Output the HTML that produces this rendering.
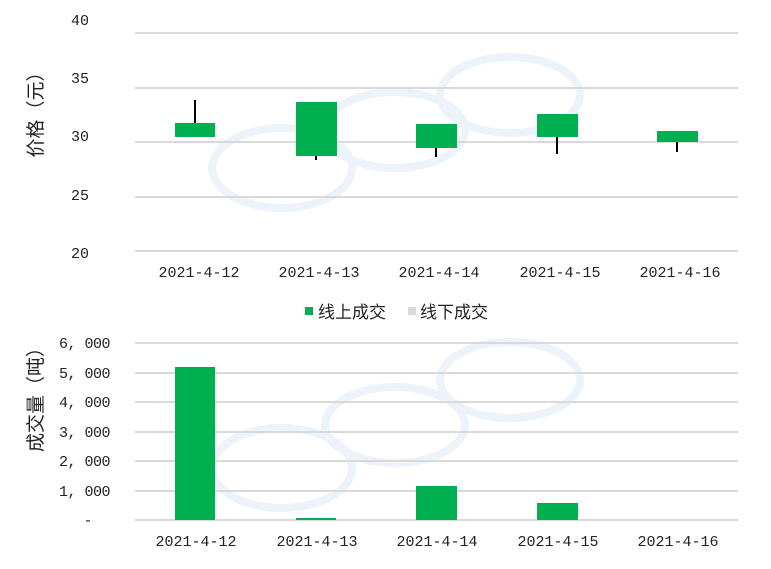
<!DOCTYPE html>
<html><head><meta charset="utf-8"><style>
body{margin:0;background:#fff}
text{font-family:"Liberation Mono","Noto Serif CJK SC",monospace;font-size:15px;fill:#222}
.c{font-family:"Liberation Serif","Noto Sans CJK SC",sans-serif;font-size:17px}
.t{font-size:19px}
</style></head><body>
<svg width="771" height="564" xmlns="http://www.w3.org/2000/svg">
<g fill="none" stroke="#edf3fa" stroke-width="8">
<ellipse cx="282" cy="168" rx="70" ry="40"/><ellipse cx="395" cy="130" rx="70" ry="38"/><ellipse cx="510" cy="95" rx="70" ry="38"/>
<ellipse cx="282" cy="468" rx="70" ry="40"/><ellipse cx="395" cy="425" rx="70" ry="38"/><ellipse cx="510" cy="380" rx="70" ry="38"/>
</g>
<g stroke="#d9d9d9" stroke-width="2">
<line x1="135" x2="738" y1="33" y2="33"/><line x1="135" x2="738" y1="88" y2="88"/><line x1="135" x2="738" y1="142" y2="142"/><line x1="135" x2="738" y1="197" y2="197"/><line x1="135" x2="738" y1="251" y2="251"/>
<line x1="135" x2="738" y1="343" y2="343"/><line x1="135" x2="738" y1="373" y2="373"/><line x1="135" x2="738" y1="402" y2="402"/><line x1="135" x2="738" y1="432" y2="432"/><line x1="135" x2="738" y1="461" y2="461"/><line x1="135" x2="738" y1="491" y2="491"/><line x1="135" x2="738" y1="520" y2="520"/>
</g>
<g text-anchor="end">
<text x="89" y="25">40</text><text x="89" y="83">35</text><text x="89" y="141">30</text><text x="89" y="200">25</text><text x="89" y="258">20</text>
</g>
<g text-anchor="end" style="font-size:14px" letter-spacing="-0.5">
<text x="110" y="348">6, 000</text><text x="110" y="378">5, 000</text><text x="110" y="407">4, 000</text><text x="110" y="437">3, 000</text><text x="110" y="466">2, 000</text><text x="110" y="496">1, 000</text><text x="92" y="525">-</text>
</g>
<g text-anchor="middle">
<text x="199" y="277">2021-4-12</text><text x="319" y="277">2021-4-13</text><text x="439" y="277">2021-4-14</text><text x="560" y="277">2021-4-15</text><text x="680" y="277">2021-4-16</text>
<text x="196" y="546">2021-4-12</text><text x="317" y="546">2021-4-13</text><text x="437" y="546">2021-4-14</text><text x="558" y="546">2021-4-15</text><text x="678" y="546">2021-4-16</text>
</g>
<text class="c t" transform="translate(42,110) rotate(-90)" text-anchor="middle">价格（元）</text>
<text class="c t" transform="translate(42,395) rotate(-90)" text-anchor="middle">成交量（吨）</text>
<g stroke="#000" stroke-width="2">
<line x1="195" x2="195" y1="100" y2="124"/><line x1="316" x2="316" y1="150" y2="160"/><line x1="436" x2="436" y1="145" y2="157"/><line x1="557" x2="557" y1="135" y2="154"/><line x1="677" x2="677" y1="140" y2="152"/>
</g>
<g fill="#00b050">
<rect x="175" y="123" width="40" height="14"/><rect x="296" y="102" width="41" height="54"/><rect x="416" y="124" width="41" height="24"/><rect x="537" y="114" width="41" height="23"/><rect x="657" y="131" width="41" height="11"/>
<rect x="175" y="367" width="40" height="153"/><rect x="296" y="518" width="40" height="2"/><rect x="416" y="486" width="41" height="34"/><rect x="537" y="503" width="41" height="17"/>
<rect x="305" y="307" width="8" height="8"/>
</g>
<rect x="408" y="307" width="8" height="8" fill="#d9d9d9"/>
<text class="c" x="318" y="318">线上成交</text><text class="c" x="420" y="318">线下成交</text>
</svg>
</body></html>
